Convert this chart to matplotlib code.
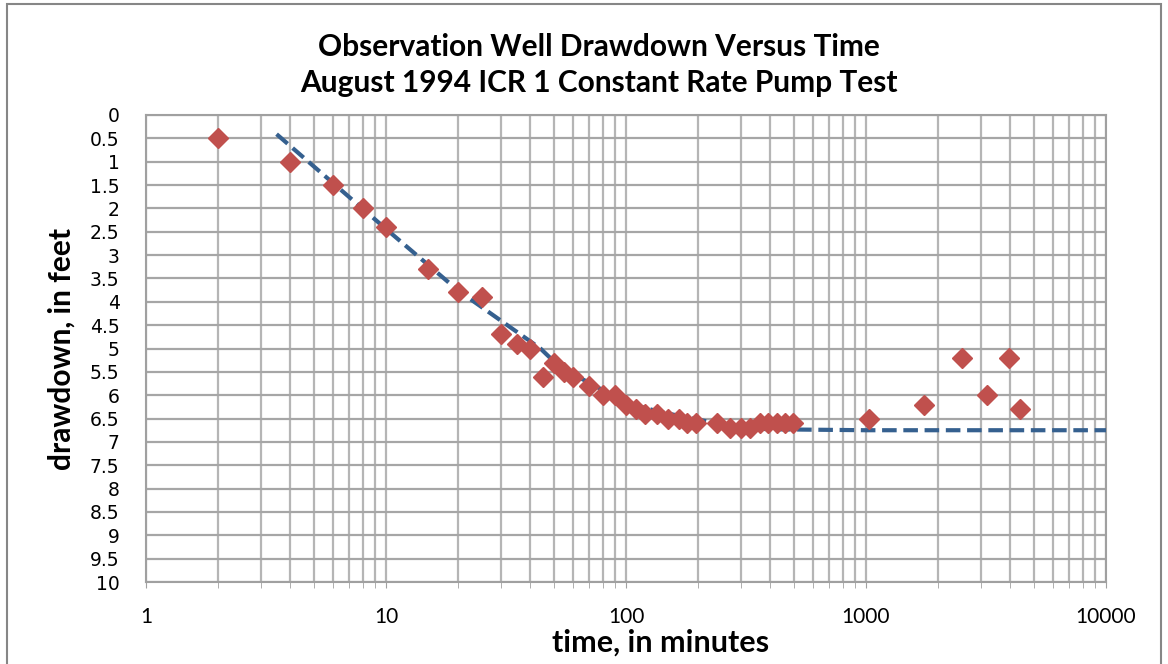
import numpy as np
import matplotlib.pyplot as plt
from matplotlib.patches import Rectangle
from matplotlib.ticker import FixedLocator, NullFormatter, LogLocator

# observed drawdown
time_min = [2, 4, 6, 8, 10, 15, 20, 25, 30, 35, 40, 45, 50, 55, 60, 70, 80, 90,
            100, 110, 120, 135, 150, 166, 180, 195, 240, 270, 300, 330, 360, 390,
            425, 460, 495, 1030, 1750, 2500, 3200, 3950, 4400]
drawdown = [0.5, 1.0, 1.5, 2.0, 2.4, 3.3, 3.8, 3.9, 4.7, 4.9, 5.0, 5.6, 5.3, 5.5,
            5.6, 5.8, 6.0, 6.0, 6.2, 6.3, 6.4, 6.4, 6.5, 6.5, 6.6, 6.6, 6.6, 6.7,
            6.7, 6.7, 6.6, 6.6, 6.6, 6.6, 6.6, 6.5, 6.2, 5.2, 6.0, 5.2, 6.3]

# fitted curve (dashed)
fit_time = [3.5, 10, 20, 44, 53, 73, 101, 139, 203, 299, 400, 1000, 10000]
fit_dd = [0.41, 2.44, 3.76, 5.0, 5.40, 5.78, 6.17, 6.36, 6.53, 6.70, 6.73, 6.75, 6.75]

y_ticks = np.arange(0, 10.01, 0.5)
x_ticks = [1, 10, 100, 1000, 10000]

fig = plt.figure(figsize=(11.68, 6.64), dpi=100)
fig.patches.append(Rectangle((7 / 1168, -0.01), 1154 / 1168, 1 - 4 / 664 + 0.01,
                             transform=fig.transFigure, fill=False,
                             edgecolor='#868686', lw=1.5))

ax = fig.add_axes([146 / 1168, 1 - 582 / 664, 960 / 1168, 467 / 664])
ax.set_xscale('log')
ax.set_xlim(1, 10000)
ax.set_ylim(10, 0)

ax.xaxis.set_major_locator(FixedLocator(x_ticks))
ax.xaxis.set_minor_locator(LogLocator(base=10, subs=np.arange(2, 10)))
ax.xaxis.set_minor_formatter(NullFormatter())
ax.set_xticklabels([str(v) for v in x_ticks], fontfamily='Lato', fontsize=15)
ax.set_yticks(y_ticks)
ax.set_yticklabels([f'{v:g}' for v in y_ticks], fontfamily='DejaVu Sans', fontsize=13.5)

ax.grid(which='both', axis='x', color='#b5b5b5', lw=1.6)
ax.grid(which='major', axis='y', color='#a6a6a6', lw=1.6)
ax.set_axisbelow(True)
for s in ax.spines.values():
    s.set_color('#a0a0a0')
    s.set_linewidth(1.5)
ax.tick_params(axis='x', which='both', length=4, color='#a0a0a0', pad=14)
ax.tick_params(axis='y', length=0, pad=19)

ax.plot(fit_time, fit_dd, color='#35608f', lw=3.0, ls=(0, (3.5, 1.6)), zorder=3)
ax.plot(time_min, drawdown, ls='none', marker='D', color='#c0504d',
        markersize=10, zorder=4)

fig.text(661 / 1168, 1 - 643 / 664, 'time, in minutes', ha='center', va='center',
         fontfamily='Lato', fontweight='bold', fontsize=22)
fig.text(62 / 1168, 1 - 349 / 664, 'drawdown, in feet', ha='center', va='center',
         rotation=90, fontfamily='Lato', fontweight='bold', fontsize=21.5)
fig.text(0.513, 1 - 65 / 664, 'Observation Well Drawdown Versus Time\n'
         'August 1994 ICR 1 Constant Rate Pump Test', ha='center', va='center',
         fontfamily='Lato', fontweight='bold', fontsize=21.5, linespacing=1.35)

fig.savefig('out.png', dpi=100)
